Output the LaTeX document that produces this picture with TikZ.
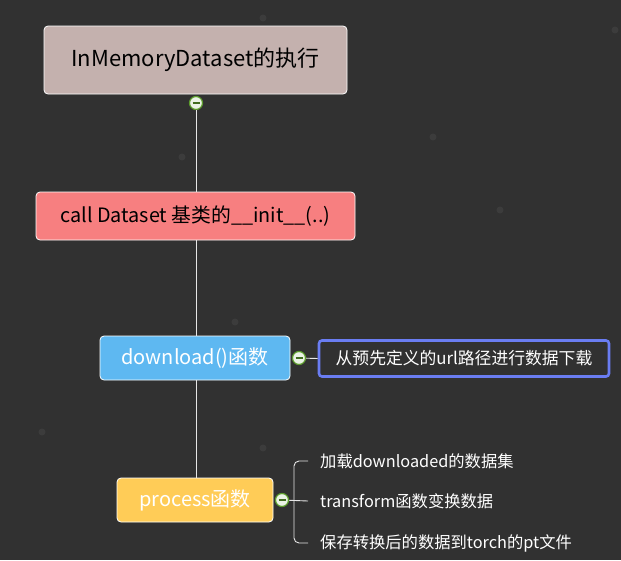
\documentclass[tikz,border=0pt]{standalone}
\usepackage{fontspec}
\setmainfont{Noto Sans CJK SC}
\definecolor{bg}{HTML}{313131}
\definecolor{rootc}{HTML}{C4B1AE}
\definecolor{callc}{HTML}{F77F80}
\definecolor{dlc}{HTML}{5EB8F1}
\definecolor{prc}{HTML}{FFCC57}
\definecolor{bluebd}{HTML}{6A7DF2}
\definecolor{linec}{HTML}{E6E6E6}
\definecolor{grn}{HTML}{5C9C2C}
\definecolor{dotc}{HTML}{3C3C3C}
\tikzset{
  box/.style={draw=white, line width=0.8pt, rounded corners=4pt, inner sep=0pt},
  conn/.style={draw=linec, line width=0.9pt},
  toggle/.style={circle, draw=grn, line width=1.2pt, fill=white!88!grn, minimum size=13pt, inner sep=0pt,
    path picture={\draw[grn!70!black, line width=1.5pt] ([xshift=-3.5pt]path picture bounding box.center) -- ([xshift=3.5pt]path picture bounding box.center);}},
  leaf/.style={text=white, anchor=west, inner sep=0pt, font=\fontsize{16.3}{19}\selectfont},
  bgdot/.style={fill=dotc, draw=none}
}
\begin{document}
\begin{tikzpicture}[x=1pt, y=-1pt]
\fill[bg] (0,0) rectangle (621,560);
\useasboundingbox (0,0) rectangle (621,560);
% faint background dots
\foreach \p in {(263,18),(182,157),(433,137),(235,322),(42,432),(263,448),(615,30),(500,210)}
  \fill[bgdot] \p circle (3.5);
% nodes
\node[box, fill=rootc, minimum width=303pt, minimum height=68pt, font=\fontsize{22}{26}\selectfont, text=black] (root) at (195.5,60) {InMemoryDataset的执行};
\node[box, fill=callc, minimum width=319pt, minimum height=48pt, font=\fontsize{19.8}{23}\selectfont, text=black] (call) at (195.5,216) {call Dataset 基类的\_\_init\_\_(..)};
\node[box, fill=dlc, minimum width=190pt, minimum height=44pt, font=\fontsize{20}{23}\selectfont, text=white] (dl) at (195,358) {download()函数};
\node[box, fill=prc, minimum width=156pt, minimum height=44pt, font=\fontsize{20}{23}\selectfont, text=white] (pr) at (195,500) {process函数};
\node[draw=bluebd, line width=2.6pt, fill=bg, rounded corners=3pt, minimum width=290pt, minimum height=36pt, inner sep=0pt, text=white, font=\fontsize{16.8}{19}\selectfont] (url) at (464,358.5) {从预先定义的url路径进行数据下载};
\node[leaf] (l1) at (320,461) {加载downloaded的数据集};
\node[leaf] (l2) at (320,501) {transform函数变换数据};
\node[leaf] (l3) at (320,543) {保存转换后的数据到torch的pt文件};
% toggles
\node[toggle] (t1) at (196,103) {};
\node[toggle] (t2) at (299,358) {};
\node[toggle] (t3) at (282,500) {};
% connectors
\draw[conn] (t1) -- (t1 |- call.north);
\draw[conn] (t1 |- call.south) -- (t1 |- dl.north);
\draw[conn] (t1 |- dl.south) -- (t1 |- pr.north);
\draw[conn] (t2) -- (url.west);
\coordinate (bk) at (294,500);
\draw[conn] (t3) -- ([xshift=-12pt]l2.west);
\draw[conn, rounded corners=5pt] ([xshift=-12pt]l1.west) -- (bk |- l1.west) -- (bk |- l3.west) -- ([xshift=-12pt]l3.west);
\end{tikzpicture}
\end{document}
